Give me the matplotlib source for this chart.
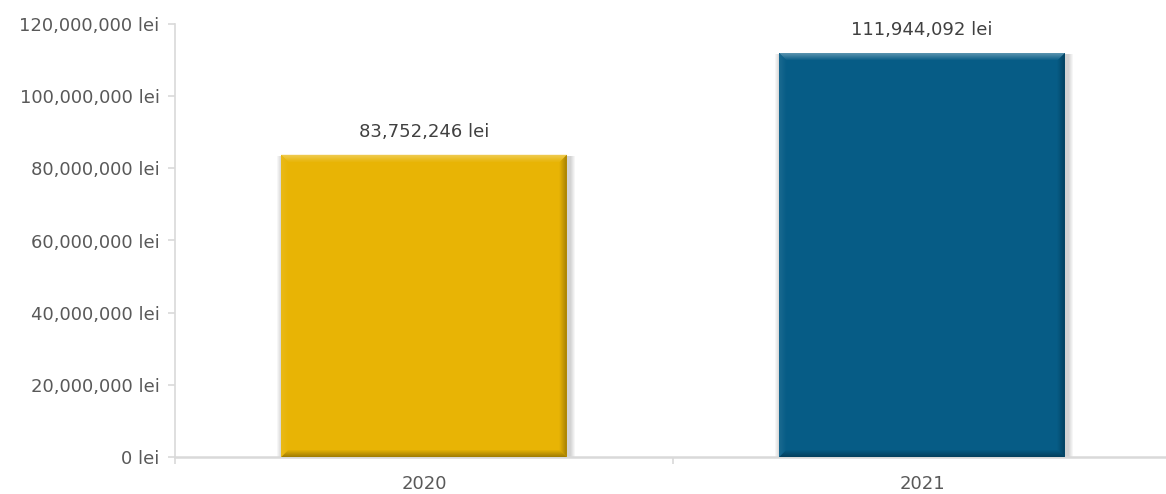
import matplotlib
matplotlib.use('Agg')
import matplotlib.pyplot as plt
from matplotlib.patches import Polygon, Rectangle
from matplotlib.ticker import FuncFormatter
from matplotlib.colors import to_rgb
import numpy as np

# valori buget pe ani
ani = ['2020', '2021']
valori = [83752246, 111944092]
culori = ['#E8B405', '#065C86']

plt.rcParams['font.family'] = ['DejaVu Sans']
text_color = '#595959'

fig = plt.figure(figsize=(11.66, 4.94), dpi=100)
ax = fig.add_axes([175 / 1166, 1 - 457 / 494, 996 / 1166, 433 / 494])

x = np.arange(len(ani))
bars = ax.bar(x, valori, width=0.573, color=culori, zorder=3)

ax.set_xlim(-0.5, 1.5)
ax.set_ylim(0, 120000000)
ax.set_yticks(np.arange(0, 120000001, 20000000))
ax.yaxis.set_major_formatter(FuncFormatter(lambda v, p: f'{v:,.0f} lei'))
ax.set_xticks(x)
ax.set_xticklabels(ani)
ax.set_xticks([-0.5, 0.5, 1.5], minor=True)

for s in ['top', 'right']:
    ax.spines[s].set_visible(False)
ax.spines['left'].set_color('#D9D9D9')
ax.spines['bottom'].set_color('#D9D9D9')
ax.spines['left'].set_linewidth(1.2)
ax.spines['bottom'].set_linewidth(1.8)
ax.tick_params(axis='y', colors='#D9D9D9', labelcolor=text_color, labelsize=13, length=5, width=1.2, pad=6)
ax.tick_params(axis='x', which='major', length=0, labelcolor=text_color, labelsize=13, pad=13)
ax.tick_params(axis='x', which='minor', colors='#D9D9D9', length=5, width=1.2)


def shade(c, f):
    r = np.array(to_rgb(c))
    if f > 0:
        return tuple(r + (1 - r) * f)
    return tuple(r * (1 + f))


# efect de bizou (in trepte) si umbra pe fiecare bara
fig.canvas.draw()
b = 7
for bar, c in zip(bars, culori):
    (x0, y0), (x1, y1) = bar.get_window_extent().get_points()
    for k in range(5, 0, -1):
        ax.add_patch(Rectangle((x0 + 1 - k, y0 - 1 - k), x1 - x0 + 2 * k + 2, y1 - y0 + k,
                               transform=None, color='black', alpha=0.035, lw=0, zorder=2))
    for i in range(b):
        t = 1 - i / b
        a0, a1 = i, i + 1
        top = [(x0 + a0, y1 - a0), (x1 - a0, y1 - a0), (x1 - a1, y1 - a1), (x0 + a1, y1 - a1)]
        left = [(x0 + a0, y0 + a0), (x0 + a0, y1 - a0), (x0 + a1, y1 - a1), (x0 + a1, y0 + a1)]
        right = [(x1 - a0, y0 + a0), (x1 - a0, y1 - a0), (x1 - a1, y1 - a1), (x1 - a1, y0 + a1)]
        bottom = [(x0 + a0, y0 + a0), (x1 - a0, y0 + a0), (x1 - a1, y0 + a1), (x0 + a1, y0 + a1)]
        for pts, f in [(left, 0.10 * t), (right, -0.35 * t), (bottom, -0.3 * t), (top, 0.35 * t)]:
            ax.add_patch(Polygon(pts, closed=True, transform=None, color=shade(c, f), lw=0, zorder=4))

for bar, v in zip(bars, valori):
    ax.annotate(f'{v:,.0f} lei', (bar.get_x() + bar.get_width() / 2, v),
                xytext=(0, 10), textcoords='offset points', ha='center', va='bottom',
                fontsize=13, color='#404040')

fig.savefig('out.png', dpi=100)
